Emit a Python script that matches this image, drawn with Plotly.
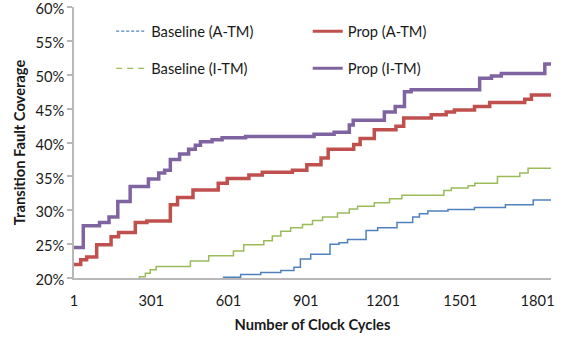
import plotly.graph_objects as go

# ---- data (step breakpoints: value holds from its cycle until the next) ----
tick_cycles = [1, 301, 601, 901, 1201, 1501, 1801]
y_ticks = [20, 25, 30, 35, 40, 45, 50, 55, 60]

base_a_cycles = [1, 582, 648, 726, 804, 855, 880, 920, 995, 1030, 1063, 1135, 1180, 1255,
                 1316, 1342, 1375, 1453, 1556, 1676, 1784, 1853]
base_a_values = [19.0, 20.1, 20.5, 20.8, 21.1, 21.6, 22.8, 23.5, 25.0, 25.2, 25.7, 27.0, 27.4, 28.2,
                 29.0, 29.5, 29.9, 30.1, 30.4, 30.8, 31.5, 31.5]

base_i_cycles = [1, 255, 278, 297, 320, 453, 524, 620, 660, 738, 771, 804, 842, 888, 927, 966,
                 1024, 1070, 1102, 1167, 1226, 1274, 1437, 1466, 1531, 1557, 1645, 1732, 1764, 1853]
base_i_values = [19.0, 20.2, 20.7, 21.2, 21.7, 22.5, 23.3, 24.0, 24.9, 25.5, 26.2, 26.9, 27.4, 27.9,
                 28.5, 29.0, 29.6, 30.2, 30.6, 31.1, 31.7, 32.2, 32.9, 33.3, 33.6, 34.0, 35.0, 35.5,
                 36.2, 36.2]

prop_a_cycles = [1, 27, 50, 89, 145, 174, 239, 284, 375, 403, 463, 561, 596, 680, 732, 849, 905,
                 960, 988, 1087, 1112, 1167, 1251, 1281, 1388, 1446, 1478, 1556, 1615, 1751, 1777, 1853]
prop_a_values = [22.0, 22.7, 23.1, 24.9, 26.1, 26.7, 28.2, 28.4, 30.8, 31.9, 33.0, 34.0, 34.7, 35.2,
                 35.6, 35.9, 36.7, 37.7, 39.0, 39.7, 40.6, 41.9, 42.4, 43.6, 44.1, 44.5, 44.8, 45.3,
                 45.9, 46.4, 47.0, 47.0]

prop_i_cycles = [1, 37, 100, 137, 171, 219, 290, 330, 353, 375, 411, 446, 472, 492, 537, 576, 667,
                 933, 1011, 1070, 1085, 1206, 1248, 1284, 1310, 1576, 1622, 1660, 1829, 1853]
prop_i_values = [24.5, 27.7, 28.2, 29.0, 31.3, 33.5, 34.6, 35.5, 35.9, 37.5, 38.3, 39.0, 39.6, 40.1,
                 40.4, 40.7, 40.9, 41.2, 41.5, 42.6, 43.3, 44.5, 45.3, 47.5, 47.8, 49.5, 49.8, 50.2,
                 51.6, 51.6]

names = ["Baseline (A-TM)", "Prop (A-TM)", "Baseline (I-TM)", "Prop (I-TM)"]
colors = ["#4F81BD", "#C0504D", "#9BBB59", "#8064A2"]

FONT = "Lato, Carlito, 'Liberation Sans', sans-serif"
FS = 14.7
TXT = "#1a1a1a"

fig = go.Figure()

series = [
    (base_a_cycles, base_a_values, names[0], colors[0], 1.5, "3px,2px", "legend"),
    (prop_a_cycles, prop_a_values, names[1], colors[1], 3.5, "solid", "legend2"),
    (base_i_cycles, base_i_values, names[2], colors[2], 1.5, "6px,5px", "legend"),
    (prop_i_cycles, prop_i_values, names[3], colors[3], 3.5, "solid", "legend2"),
]

for cx, vy, nm, col, w, dash, lg in series:
    fig.add_trace(go.Scatter(
        x=cx, y=vy, mode="lines", line=dict(color=col, width=w, shape="hv"),
        showlegend=False, hoverinfo="skip"))

for cx, vy, nm, col, w, dash, lg in series:
    fig.add_trace(go.Scatter(
        x=[None], y=[None], mode="lines", name=nm,
        line=dict(color=col, width=(3 if w > 2 else 1.3), dash=dash),
        legend=lg, legendgroup=nm, showlegend=True))

axis_col = "#B8B8B8"

fig.update_layout(
    width=565, height=343,
    margin=dict(l=74, r=14, t=7, b=65),
    paper_bgcolor="white", plot_bgcolor="white",
    font=dict(family=FONT, size=FS, color=TXT),
    xaxis=dict(
        range=[1, 1853], tickvals=tick_cycles, ticktext=[str(t) for t in tick_cycles],
        showgrid=False, zeroline=False, showline=True, linecolor=axis_col, linewidth=2,
        ticks="", ticklabelstandoff=8, automargin=False,
        title=dict(text="<b>Number of Clock Cycles</b>", standoff=12,
                   font=dict(family=FONT, size=FS, color=TXT)),
    ),
    yaxis=dict(
        range=[20, 60], tickvals=y_ticks, ticktext=[f"{t}%" for t in y_ticks],
        showgrid=False, zeroline=False, showline=True, linecolor=axis_col, linewidth=1.5,
        ticks="outside", ticklen=5, tickcolor=axis_col, tickwidth=1.5,
        ticklabeloverflow="allow", automargin=False, ticklabelshift=2,
        title=dict(text="<b>Transition Fault Coverage</b>", standoff=6,
                   font=dict(family=FONT, size=FS, color=TXT)),
    ),
    legend=dict(x=0.078, y=0.97, xanchor="left", yanchor="top", bgcolor="rgba(0,0,0,0)",
                tracegroupgap=15, font=dict(family=FONT, size=FS, color=TXT)),
    legend2=dict(x=0.49, y=0.97, xanchor="left", yanchor="top", bgcolor="rgba(0,0,0,0)",
                 tracegroupgap=15, font=dict(family=FONT, size=FS, color=TXT)),
)

fig.write_html("out.html", config={"displayModeBar": False},
               post_script="document.body.style.margin='0';document.body.style.overflow='hidden';")
